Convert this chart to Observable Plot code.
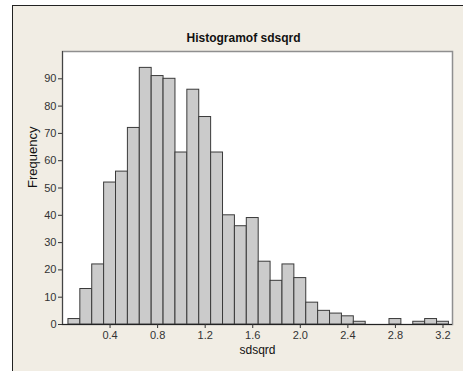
<!DOCTYPE html>
<html><head><meta charset="utf-8">
<script src="https://cdn.jsdelivr.net/npm/d3@7"></script>
<script src="https://cdn.jsdelivr.net/npm/@observablehq/plot@0.6"></script>
<style>
html,body{margin:0;padding:0;background:#fff;}
#wrap{position:absolute;left:0;top:0;width:463px;height:371px;overflow:hidden;}
#panel{position:absolute;left:12px;top:5px;width:451px;height:366px;background:#f1ede4;border-left:1px solid #222;border-top:1px solid #222;box-sizing:border-box;}
#chart{position:absolute;left:0;top:0;}
</style></head><body>
<div id="wrap"><div id="panel"></div><div id="chart"></div></div>
<script>
const title = "Histogramof sdsqrd";
const xLabel = "sdsqrd";
const yLabel = "Frequency";
const binWidth = 0.1;
const midpoints = [0.1,0.2,0.3,0.4,0.5,0.6,0.7,0.8,0.9,1.0,1.1,1.2,1.3,1.4,1.5,1.6,1.7,1.8,1.9,2.0,2.1,2.2,2.3,2.4,2.5,2.6,2.7,2.8,2.9,3.0,3.1,3.2];
const counts =    [2,13,22,52,56,72,94,91,90,63,86,76,63,40,36,39,23,16,22,17,8,5,4,3,1,0,0,2,0,1,2,1];
const xTicks = [0.4,0.8,1.2,1.6,2.0,2.4,2.8,3.2];
const yTicks = [0,10,20,30,40,50,60,70,80,90];

const data = midpoints.map((m,i)=>({x1:m-binWidth/2, x2:m+binWidth/2, y:counts[i]})).filter(d=>d.y>0);

const chart = Plot.plot({
  width:463, height:371,
  marginLeft:62, marginRight:11, marginTop:51, marginBottom:47,
  style:{background:"transparent", fontFamily:"'Liberation Sans', Arial, sans-serif", fontSize:"11px", color:"#333"},
  x:{domain:[0,3.28]},
  y:{domain:[0,100]},
  marks:[
    Plot.frame({fill:"white", stroke:"#8f8f8f", strokeWidth:1.5}),
    Plot.rectY(data,{x1:"x1", x2:"x2", y:"y", fill:"#cbcbcb", stroke:"#3a3a3a", strokeWidth:1}),
    Plot.ruleY([0],{stroke:"#222"}),
    Plot.ruleX([0],{stroke:"#444"}),
    Plot.axisX({ticks:xTicks, tickFormat:d3.format(".1f"), tickSize:4, tickPadding:3, label:null}),
    Plot.axisY({ticks:yTicks, tickSize:4, tickPadding:2, label:null}),
    Plot.text([xLabel],{text:d=>d, frameAnchor:"bottom", dy:29, fontSize:12, fill:"#111"}),
    Plot.text([yLabel],{text:d=>d, frameAnchor:"left", dx:-29.5, rotate:-90, fontSize:13, fill:"#111"}),
    Plot.text([title],{text:d=>d, frameAnchor:"top", dy:-18, dx:-14, fontWeight:"bold", fontSize:12, fill:"#111"})
  ]
});
document.getElementById("chart").appendChild(chart);
</script>
</body></html>
